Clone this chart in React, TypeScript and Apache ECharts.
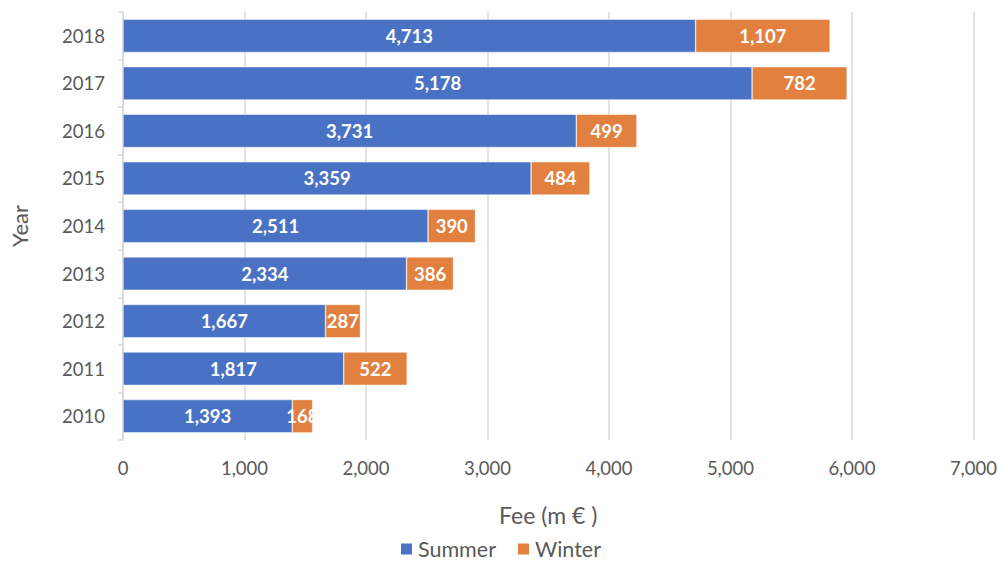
import React, { useEffect, useRef } from "react";
import * as echarts from "echarts";

const years = ["2010", "2011", "2012", "2013", "2014", "2015", "2016", "2017", "2018"];
const summer = [1393, 1817, 1667, 2334, 2511, 3359, 3731, 5178, 4713];
const winter = [168, 522, 287, 386, 390, 484, 499, 782, 1107];

const FONT = "Lato, 'Open Sans', sans-serif";

export default function App() {
  const ref = useRef<HTMLDivElement>(null);
  useEffect(() => {
    if (!ref.current) return;
    const chart = echarts.init(ref.current, undefined, { renderer: "svg" });
    const fmt = (v: number) => v.toLocaleString("en-US");
    const label = {
      show: true,
      position: "inside",
      color: "#fff",
      fontWeight: "bold",
      fontSize: 18.5,
      fontFamily: FONT,
      formatter: (p: any) => fmt(p.value),
    };
    chart.setOption({
      animation: false,
      textStyle: { fontFamily: FONT },
      grid: { left: 122, right: 24, top: 12, bottom: 124, containLabel: false },
      legend: {
        top: 538,
        padding: 0,
        left: "center",
        itemWidth: 13,
        itemHeight: 13,
        itemGap: 20,
        icon: "rect",
        textStyle: { fontSize: 21.5, lineHeight: 22, color: "#595959", fontFamily: FONT },
        data: ["Summer", "Winter"],
      },
      xAxis: {
        type: "value",
        min: 0,
        max: 7000,
        interval: 1000,
        name: "Fee (m € )",
        nameLocation: "middle",
        nameGap: 63,
        nameTextStyle: { fontSize: 23, color: "#595959", fontFamily: FONT },
        axisLabel: {
          fontSize: 18.5,
          color: "#595959",
          margin: 18,
          formatter: (v: number) => fmt(v),
        },
        axisLine: { show: false },
        axisTick: { show: false },
        splitLine: { show: true, lineStyle: { color: "#d9d9d9", width: 1.5 } },
      },
      yAxis: {
        type: "category",
        data: years,
        name: "Year",
        nameLocation: "middle",
        nameGap: 93,
        nameRotate: 90,
        nameTextStyle: { fontSize: 22, color: "#595959", fontFamily: FONT },
        axisLabel: { fontSize: 18.5, color: "#595959", margin: 18 },
        axisLine: { show: true, lineStyle: { color: "#d9d9d9", width: 1.5 } },
        axisTick: { show: true, length: 5, lineStyle: { color: "#d9d9d9", width: 1.5 } },
        splitLine: { show: false },
      },
      series: [
        {
          name: "Summer",
          type: "bar",
          stack: "total",
          data: summer,
          barCategoryGap: "30%",
          itemStyle: { color: "#4A72C4", borderColor: "#fff", borderWidth: 0.5 },
          label,
        },
        {
          name: "Winter",
          type: "bar",
          stack: "total",
          data: winter,
          barCategoryGap: "30%",
          itemStyle: { color: "#E2803F", borderColor: "#fff", borderWidth: 0.5 },
          label,
        },
      ],
    });
    return () => chart.dispose();
  }, []);
  return (
    <div
      ref={ref}
      style={{ position: "absolute", left: 0, top: 0, width: 1000, height: 564, background: "#fff" }}
    />
  );
}
